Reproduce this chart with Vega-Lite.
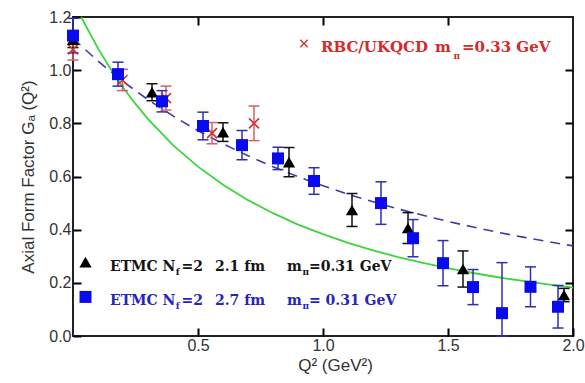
{
  "$schema": "https://vega.github.io/schema/vega-lite/v6.json",
  "width": 500,
  "height": 319,
  "autosize": {"type": "none"},
  "padding": {"left": 73, "top": 17, "right": 12, "bottom": 47},
  "background": "white",
  "config": {
    "view": {"stroke": "#222", "strokeWidth": 2},
    "axis": {
      "grid": false,
      "domain": false,
      "labelFont": "Liberation Sans",
      "labelFontSize": 16,
      "labelColor": "#333",
      "labelFlush": false,
      "labelOverlap": false,
      "labelBound": false,
      "titleFont": "Liberation Sans",
      "titleFontWeight": "normal",
      "titleFontSize": 17,
      "titleColor": "#333"
    }
  },
  "datasets": {
    "pts": [
      {"series": "ETMC27", "q2": 0.0, "ga": 1.13, "lo": 1.065, "hi": 1.195},
      {"series": "ETMC27", "q2": 0.18, "ga": 0.985, "lo": 0.94, "hi": 1.03},
      {"series": "ETMC27", "q2": 0.356, "ga": 0.883, "lo": 0.843, "hi": 0.923},
      {"series": "ETMC27", "q2": 0.52, "ga": 0.79, "lo": 0.738, "hi": 0.842},
      {"series": "ETMC27", "q2": 0.676, "ga": 0.718, "lo": 0.663, "hi": 0.773},
      {"series": "ETMC27", "q2": 0.82, "ga": 0.668, "lo": 0.626, "hi": 0.71},
      {"series": "ETMC27", "q2": 0.964, "ga": 0.583, "lo": 0.533, "hi": 0.633},
      {"series": "ETMC27", "q2": 1.232, "ga": 0.5, "lo": 0.42, "hi": 0.58},
      {"series": "ETMC27", "q2": 1.36, "ga": 0.368, "lo": 0.298, "hi": 0.438},
      {"series": "ETMC27", "q2": 1.48, "ga": 0.274, "lo": 0.189, "hi": 0.359},
      {"series": "ETMC27", "q2": 1.6, "ga": 0.184, "lo": 0.118, "hi": 0.25},
      {"series": "ETMC27", "q2": 1.716, "ga": 0.086, "lo": -0.104, "hi": 0.276},
      {"series": "ETMC27", "q2": 1.83, "ga": 0.185, "lo": 0.11, "hi": 0.26},
      {"series": "ETMC27", "q2": 1.94, "ga": 0.11, "lo": 0.03, "hi": 0.19},
      {"series": "ETMC21", "q2": 0.0, "ga": 1.115, "lo": 1.085, "hi": 1.145},
      {"series": "ETMC21", "q2": 0.316, "ga": 0.917, "lo": 0.885, "hi": 0.949},
      {"series": "ETMC21", "q2": 0.6, "ga": 0.767, "lo": 0.732, "hi": 0.802},
      {"series": "ETMC21", "q2": 0.864, "ga": 0.654, "lo": 0.599, "hi": 0.709},
      {"series": "ETMC21", "q2": 1.116, "ga": 0.474, "lo": 0.412, "hi": 0.536},
      {"series": "ETMC21", "q2": 1.34, "ga": 0.406, "lo": 0.348, "hi": 0.464},
      {"series": "ETMC21", "q2": 1.56, "ga": 0.252, "lo": 0.184, "hi": 0.32},
      {"series": "ETMC21", "q2": 1.964, "ga": 0.154, "lo": 0.129, "hi": 0.179},
      {"series": "RBC", "q2": 0.0, "ga": 1.078, "lo": 1.038, "hi": 1.118},
      {"series": "RBC", "q2": 0.198, "ga": 0.963, "lo": 0.923, "hi": 1.003},
      {"series": "RBC", "q2": 0.372, "ga": 0.895, "lo": 0.85, "hi": 0.94},
      {"series": "RBC", "q2": 0.556, "ga": 0.763, "lo": 0.723, "hi": 0.803},
      {"series": "RBC", "q2": 0.724, "ga": 0.8, "lo": 0.735, "hi": 0.865}
    ],
    "dipole": [
      {"q2": 0.0, "ga": 1.12}, {"q2": 0.1, "ga": 1.034}, {"q2": 0.2, "ga": 0.957},
      {"q2": 0.3, "ga": 0.889}, {"q2": 0.4, "ga": 0.828}, {"q2": 0.5, "ga": 0.772},
      {"q2": 0.6, "ga": 0.723}, {"q2": 0.7, "ga": 0.678}, {"q2": 0.8, "ga": 0.637},
      {"q2": 0.9, "ga": 0.599}, {"q2": 1.0, "ga": 0.565}, {"q2": 1.1, "ga": 0.533},
      {"q2": 1.2, "ga": 0.505}, {"q2": 1.3, "ga": 0.478}, {"q2": 1.4, "ga": 0.454},
      {"q2": 1.5, "ga": 0.431}, {"q2": 1.6, "ga": 0.41}, {"q2": 1.7, "ga": 0.39},
      {"q2": 1.8, "ga": 0.372}, {"q2": 1.9, "ga": 0.355}, {"q2": 2.0, "ga": 0.339}
    ],
    "green": [
      {"q2": 0.033, "ga": 1.2}, {"q2": 0.05, "ga": 1.169}, {"q2": 0.1, "ga": 1.082},
      {"q2": 0.15, "ga": 1.005}, {"q2": 0.2, "ga": 0.935}, {"q2": 0.25, "ga": 0.873},
      {"q2": 0.3, "ga": 0.816}, {"q2": 0.4, "ga": 0.718}, {"q2": 0.5, "ga": 0.637},
      {"q2": 0.6, "ga": 0.569}, {"q2": 0.7, "ga": 0.511}, {"q2": 0.8, "ga": 0.462},
      {"q2": 0.9, "ga": 0.419}, {"q2": 1.0, "ga": 0.383}, {"q2": 1.1, "ga": 0.35},
      {"q2": 1.2, "ga": 0.322}, {"q2": 1.3, "ga": 0.297}, {"q2": 1.4, "ga": 0.275},
      {"q2": 1.5, "ga": 0.255}, {"q2": 1.6, "ga": 0.237}, {"q2": 1.7, "ga": 0.221},
      {"q2": 1.8, "ga": 0.207}, {"q2": 1.9, "ga": 0.194}, {"q2": 2.0, "ga": 0.182}
    ],
    "keys": [
      {"series": "ETMC21", "q2": 0.05, "ga": 0.278},
      {"series": "ETMC27", "q2": 0.05, "ga": 0.147},
      {"series": "RBC", "q2": 0.924, "ga": 1.1}
    ],
    "texts": [
      {"g": "k", "q2": 0.148, "ga": 0.258, "t": "ETMC N"},
      {"g": "k", "q2": 0.434, "ga": 0.258, "t": "=2"},
      {"g": "k", "q2": 0.568, "ga": 0.258, "t": "2.1 fm"},
      {"g": "k", "q2": 0.856, "ga": 0.258, "t": "m"},
      {"g": "k", "q2": 0.944, "ga": 0.258, "t": "=0.31 GeV"},
      {"g": "b", "q2": 0.148, "ga": 0.132, "t": "ETMC N"},
      {"g": "b", "q2": 0.434, "ga": 0.132, "t": "=2"},
      {"g": "b", "q2": 0.568, "ga": 0.132, "t": "2.7 fm"},
      {"g": "b", "q2": 0.856, "ga": 0.132, "t": "m"},
      {"g": "b", "q2": 0.944, "ga": 0.132, "t": "= 0.31 GeV"},
      {"g": "r", "q2": 0.992, "ga": 1.089, "t": "RBC/UKQCD"},
      {"g": "r", "q2": 1.448, "ga": 1.089, "t": "m"},
      {"g": "r", "q2": 1.556, "ga": 1.089, "t": "=0.33 GeV"}
    ],
    "subs": [
      {"g": "k", "q2": 0.411, "ga": 0.239, "t": "f"},
      {"g": "k", "q2": 0.918, "ga": 0.239, "t": "π"},
      {"g": "b", "q2": 0.411, "ga": 0.113, "t": "f"},
      {"g": "b", "q2": 0.918, "ga": 0.113, "t": "π"},
      {"g": "r", "q2": 1.522, "ga": 1.055, "t": "π"}
    ]
  },
  "layer": [
    {
      "data": {"name": "green"},
      "mark": {"type": "line", "color": "#3ed43e", "strokeWidth": 1.8},
      "encoding": {
        "x": {"field": "q2", "type": "quantitative", "scale": {"domain": [0, 2], "nice": false, "zero": false},
          "axis": {"orient": "bottom", "values": [0.5, 1, 1.5, 2], "format": ".1f", "offset": -8, "tickSize": 8, "tickColor": "#000000", "tickWidth": 2, "labelPadding": 1, "title": "Q² (GeV²)", "titlePadding": 4, "titleX": 262}},
        "y": {"field": "ga", "type": "quantitative", "scale": {"domain": [0, 1.2], "nice": false, "zero": false, "clamp": true},
          "axis": {"orient": "left", "values": [0, 0.2, 0.4, 0.6, 0.8, 1.0, 1.2], "format": ".1f", "offset": -8, "tickSize": 8, "tickColor": "#000000", "tickWidth": 2, "labelPadding": 2, "title": "Axial Form Factor G\u2090 (Q²)", "titlePadding": 11}}
      }
    },
    {
      "data": {"name": "dipole"},
      "mark": {"type": "line", "color": "#3c3ca8", "strokeWidth": 1.6, "strokeDash": [10, 7]},
      "encoding": {
        "x": {"field": "q2", "type": "quantitative", "axis": {"orient": "top", "values": [0.5, 1, 1.5], "labels": false, "title": null, "offset": -8, "tickSize": 8, "tickColor": "#000000", "tickWidth": 2}},
        "y": {"field": "ga", "type": "quantitative", "axis": {"orient": "right", "values": [0.2, 0.4, 0.6, 0.8, 1.0], "labels": false, "title": null, "offset": -8, "tickSize": 8, "tickColor": "#000000", "tickWidth": 2}}
      }
    },
    {
      "data": {"name": "pts"},
      "mark": {"type": "rule", "strokeWidth": 1.5},
      "encoding": {
        "x": {"field": "q2", "type": "quantitative", "axis": null},
        "y": {"field": "lo", "type": "quantitative", "axis": null},
        "y2": {"field": "hi"},
        "color": {"field": "series", "type": "nominal", "scale": {"domain": ["ETMC21", "ETMC27", "RBC"], "range": ["#111111", "#2e2eb0", "#d46060"]}, "legend": null}
      }
    },
    {
      "data": {"name": "pts"},
      "transform": [{"fold": ["lo", "hi"], "as": ["end", "bound"]}],
      "mark": {"type": "point", "shape": "stroke", "filled": false, "strokeWidth": 1.5, "size": 121, "opacity": 1},
      "encoding": {
        "x": {"field": "q2", "type": "quantitative", "axis": null},
        "y": {"field": "bound", "type": "quantitative", "axis": null},
        "color": {"field": "series", "type": "nominal", "scale": {"domain": ["ETMC21", "ETMC27", "RBC"], "range": ["#111111", "#2e2eb0", "#d46060"]}, "legend": null}
      }
    },
    {
      "data": {"name": "pts"},
      "transform": [{"filter": "datum.series == 'RBC'"}],
      "mark": {"type": "point", "shape": "M-1,-1L1,1M-1,1L1,-1", "filled": false, "stroke": "#d03030", "strokeWidth": 1.6, "size": 100, "opacity": 1},
      "encoding": {
        "x": {"field": "q2", "type": "quantitative", "axis": null},
        "y": {"field": "ga", "type": "quantitative", "axis": null}
      }
    },
    {
      "data": {"name": "pts"},
      "transform": [{"filter": "datum.series == 'ETMC21'"}],
      "mark": {"type": "point", "shape": "triangle-up", "filled": true, "color": "#000000", "size": 150, "opacity": 1},
      "encoding": {
        "x": {"field": "q2", "type": "quantitative", "axis": null},
        "y": {"field": "ga", "type": "quantitative", "axis": null}
      }
    },
    {
      "data": {"name": "pts"},
      "transform": [{"filter": "datum.series == 'ETMC27'"}],
      "mark": {"type": "point", "shape": "square", "filled": true, "color": "#0a0af0", "size": 144, "opacity": 1},
      "encoding": {
        "x": {"field": "q2", "type": "quantitative", "axis": null},
        "y": {"field": "ga", "type": "quantitative", "axis": null}
      }
    },
    {
      "data": {"name": "keys"},
      "transform": [{"filter": "datum.series == 'ETMC21'"}],
      "mark": {"type": "point", "shape": "triangle-up", "filled": true, "color": "#000000", "size": 150, "opacity": 1},
      "encoding": {
        "x": {"field": "q2", "type": "quantitative", "axis": null},
        "y": {"field": "ga", "type": "quantitative", "axis": null}
      }
    },
    {
      "data": {"name": "keys"},
      "transform": [{"filter": "datum.series == 'ETMC27'"}],
      "mark": {"type": "point", "shape": "square", "filled": true, "color": "#0a0af0", "size": 144, "opacity": 1},
      "encoding": {
        "x": {"field": "q2", "type": "quantitative", "axis": null},
        "y": {"field": "ga", "type": "quantitative", "axis": null}
      }
    },
    {
      "data": {"name": "keys"},
      "transform": [{"filter": "datum.series == 'RBC'"}],
      "mark": {"type": "point", "shape": "M-1,-1L1,1M-1,1L1,-1", "filled": false, "stroke": "#d03030", "strokeWidth": 1.4, "size": 56, "opacity": 1},
      "encoding": {
        "x": {"field": "q2", "type": "quantitative", "axis": null},
        "y": {"field": "ga", "type": "quantitative", "axis": null}
      }
    },
    {
      "data": {"name": "texts"},
      "transform": [{"filter": "datum.g != 'r'"}],
      "mark": {"type": "text", "align": "left", "baseline": "middle", "font": "DejaVu Serif", "fontWeight": "bold", "fontSize": 14},
      "encoding": {
        "x": {"field": "q2", "type": "quantitative", "axis": null},
        "y": {"field": "ga", "type": "quantitative", "axis": null},
        "text": {"field": "t"},
        "color": {"field": "g", "type": "nominal", "scale": {"domain": ["k", "b", "r"], "range": ["#151515", "#2626b8", "#d42a2a"]}, "legend": null}
      }
    },
    {
      "data": {"name": "texts"},
      "transform": [{"filter": "datum.g == 'r'"}],
      "mark": {"type": "text", "align": "left", "baseline": "middle", "font": "DejaVu Serif", "fontWeight": "bold", "fontSize": 15},
      "encoding": {
        "x": {"field": "q2", "type": "quantitative", "axis": null},
        "y": {"field": "ga", "type": "quantitative", "axis": null},
        "text": {"field": "t"},
        "color": {"field": "g", "type": "nominal", "scale": {"domain": ["k", "b", "r"], "range": ["#151515", "#2626b8", "#d42a2a"]}, "legend": null}
      }
    },
    {
      "data": {"name": "subs"},
      "mark": {"type": "text", "align": "left", "baseline": "middle", "font": "DejaVu Serif", "fontWeight": "bold", "fontSize": 9},
      "encoding": {
        "x": {"field": "q2", "type": "quantitative", "axis": null},
        "y": {"field": "ga", "type": "quantitative", "axis": null},
        "text": {"field": "t"},
        "color": {"field": "g", "type": "nominal", "scale": {"domain": ["k", "b", "r"], "range": ["#151515", "#2626b8", "#d42a2a"]}, "legend": null}
      }
    }
  ],
  "resolve": {"axis": {"x": "independent", "y": "independent"}, "scale": {"color": "independent"}}
}
